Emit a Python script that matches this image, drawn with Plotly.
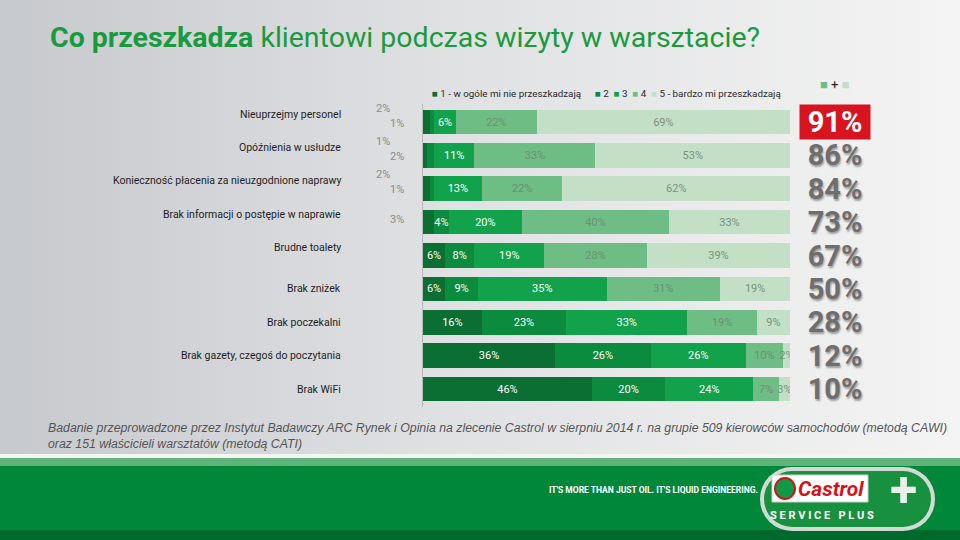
import plotly.graph_objects as go

# survey answers, percent of respondents per rating (1..5)
categories = ["Nieuprzejmy personel", "Opóźnienia w usłudze",
              "Konieczność płacenia za nieuzgodnione naprawy",
              "Brak informacji o postępie w naprawie", "Brudne toalety",
              "Brak zniżek", "Brak poczekalni",
              "Brak gazety, czegoś do poczytania", "Brak WiFi"]
r1 = [2, 1, 2, 3, 6, 6, 16, 36, 46]
r2 = [1, 2, 1, 4, 8, 9, 23, 26, 20]
r3 = [6, 11, 13, 20, 19, 35, 33, 26, 24]
r4 = [22, 33, 22, 40, 28, 31, 19, 10, 7]
r5 = [69, 53, 62, 33, 39, 19, 9, 2, 3]
series_names = ["1 - w ogóle mi nie przeszkadzają", "2", "3", "4",
                "5 - bardzo mi przeszkadzają"]
colors = ["#0b6e33", "#0a8b3d", "#12a24b", "#6dbd84", "#c3e0c6"]
text_colors = ["white", "white", "white", "#6f8f76", "#7a907e"]

FONT = "Roboto, sans-serif"

fig = go.Figure()

# background gradient on a full-size hidden subplot
fig.add_trace(go.Scatter(
    x=[0, 1, 1, 0, 0], y=[0, 0, 1, 1, 0], mode="none", fill="toself",
    fillgradient=dict(type="horizontal",
                      colorscale=[[0, "#c6c9cd"], [0.45, "#dfe0e2"], [1, "#f4f4f4"]]),
    hoverinfo="skip", showlegend=False, xaxis="x", yaxis="y"))

outside = []
for i, vals in enumerate([r1, r2, r3, r4, r5]):
    texts = []
    for j, v in enumerate(vals):
        if i < 2 and v < 4:
            texts.append("")
            outside.append((i, j, v))
        else:
            texts.append(f"{v}%")
    fig.add_trace(go.Bar(
        y=categories, x=vals, orientation="h", name=series_names[i],
        marker=dict(color=colors[i], line=dict(width=0)),
        text=texts, textposition="inside", insidetextanchor="middle",
        textangle=0, constraintext="none",
        textfont=dict(family=FONT, size=11, color=text_colors[i]),
        width=0.74, xaxis="x2", yaxis="y2", showlegend=False))


def note(x, y, text, size, color="#222", family=FONT, xanchor="center",
         shadow="none", **kw):
    fig.add_annotation(x=x, y=y, xref=kw.pop("xref", "paper"),
                       yref=kw.pop("yref", "paper"), text=text, showarrow=False,
                       xanchor=xanchor, yanchor="middle",
                       font=dict(family=family, size=size, color=color,
                                 shadow=shadow), **kw)


# small values shown to the left of the bars
for i, j, v in outside:
    upper = i == 0 and j < 3
    note(-0.11 if upper else -0.07, categories[j], f"{v}%", 11, "#8a8a8a",
         xref="x2 domain", yref="y2",
         yshift=14 if upper else (-1 if j < 3 else 3))

# category labels
for k, c in enumerate(categories):
    note(343 / 960, c, c, 10.5, "#1e1e1e", xanchor="right", yref="y2",
         yshift=8 if k < 5 else 0)

# share of 4 + 5 on the right
top2 = [a + b for a, b in zip(r4, r5)]
for k, (c, t) in enumerate(zip(categories, top2)):
    note(835 / 960, c, f"<b>{t}%</b>", 29, "white" if k == 0 else "#6e6e6e",
         yref="y2", width=70, height=34, borderpad=0,
         shadow="none" if k == 0 else "1px 2px 2px rgba(0,0,0,0.35)",
         bgcolor="#d7141f" if k == 0 else "rgba(0,0,0,0)")
note(835 / 960, 1 - 84 / 540,
     f"<span style='color:{colors[3]}'>■</span> + "
     f"<span style='color:{colors[4]}'>■</span>", 13)

# legend as text, two groups
note(430 / 960, 1 - 93 / 540,
     f"<span style='color:{colors[0]}'>■</span> {series_names[0]}",
     9.8, "#2a2a2a", xanchor="left")
note(593 / 960, 1 - 93 / 540,
     "  ".join(f"<span style='color:{colors[i]}'>■</span> {series_names[i]}"
               for i in range(1, 5)),
     9.8, "#2a2a2a", xanchor="left")

# title
note(48 / 960, 1 - 37 / 540,
     "<b>Co przeszkadza</b> klientowi podczas wizyty w warsztacie?", 28.5,
     "#1a9a3e", xanchor="left")

# footnote
note(46 / 960, 1 - 436 / 540,
     "<i>Badanie przeprowadzone przez Instytut Badawczy ARC Rynek i Opinia "
     "na zlecenie Castrol w sierpniu 2014 r. na grupie 509 kierowców "
     "samochodów (metodą CAWI)<br>oraz 151 właścicieli warsztatów "
     "(metodą CATI)</i>", 12.3, "#555555",
     family="Liberation Sans, Arial, sans-serif", xanchor="left", align="left")

# footer band and logo
px_x = lambda v: v / 960
px_y = lambda v: 1 - v / 540
shapes = [
    dict(type="rect", xref="paper", yref="paper", x0=0, x1=1, y0=0, y1=px_y(455),
         fillcolor="#00873a", line=dict(width=0), layer="above"),
    dict(type="rect", xref="paper", yref="paper", x0=0, x1=1, y0=px_y(458),
         y1=px_y(454), fillcolor="#f2f6f2", line=dict(width=0), layer="above"),
    dict(type="rect", xref="paper", yref="paper", x0=0, x1=1, y0=px_y(466),
         y1=px_y(458), fillcolor="#5fb27a", line=dict(width=0), layer="above"),
    dict(type="rect", xref="paper", yref="paper", x0=0, x1=1, y0=0,
         y1=px_y(530), fillcolor="#006a2c", line=dict(width=0), layer="above"),
]
for fill, inset in [("#d3d9d3", 0), ("#17903f", 4)]:
    shapes += [
        dict(type="circle", xref="paper", yref="paper",
             x0=px_x(760 + inset), x1=px_x(824 - inset),
             y0=px_y(531 - inset), y1=px_y(467 + inset),
             fillcolor=fill, line=dict(width=0), layer="above"),
        dict(type="circle", xref="paper", yref="paper",
             x0=px_x(871 + inset), x1=px_x(935 - inset),
             y0=px_y(531 - inset), y1=px_y(467 + inset),
             fillcolor=fill, line=dict(width=0), layer="above"),
        dict(type="rect", xref="paper", yref="paper",
             x0=px_x(792), x1=px_x(903), y0=px_y(531 - inset), y1=px_y(467 + inset),
             fillcolor=fill, line=dict(width=0), layer="above"),
    ]
shapes.append(dict(type="rect", xref="paper", yref="paper", x0=px_x(772), x1=px_x(868),
                   y0=px_y(502), y1=px_y(475), fillcolor="#ffffff",
                   line=dict(color="#c8d0c8", width=1), layer="above"))
shapes.append(dict(type="circle", xref="paper", yref="paper", x0=px_x(775), x1=px_x(795),
                   y0=px_y(499), y1=px_y(478), fillcolor="#0f9a45",
                   line=dict(color="#d2131b", width=2), layer="above"))
fig.update_layout(shapes=shapes)

note(px_x(831), px_y(489), "<b><i>Castrol</i></b>", 21, "#d2131b")
note(px_x(903), px_y(490), "<b>+</b>", 50, "#e9efe9")
note(px_x(822), px_y(515), "<b>S E R V I C E   P L U S</b>", 11, "white")
note(px_x(653), px_y(490), "<b>IT'S MORE THAN JUST OIL. IT'S LIQUID ENGINEERING.</b>",
     8.5, "white")

fig.update_layout(
    width=960, height=540, margin=dict(l=0, r=0, t=0, b=0),
    barmode="stack", showlegend=False,
    paper_bgcolor="#e2e3e5", plot_bgcolor="rgba(0,0,0,0)",
    xaxis=dict(domain=[0, 1], range=[0, 1], visible=False, fixedrange=True),
    yaxis=dict(domain=[0, 1], range=[0, 1], visible=False, fixedrange=True),
    xaxis2=dict(domain=[423 / 960, 790 / 960], range=[0, 100], visible=False,
                anchor="y2"),
    yaxis2=dict(domain=[1 - 407 / 540, 1 - 104 / 540], anchor="x2",
                categoryorder="array", categoryarray=categories,
                autorange="reversed", showticklabels=False, showgrid=False,
                zeroline=False, showline=True, linecolor="#b8b8b8", linewidth=1),
)

fig.write_html("out.html", config={"displayModeBar": False},
               post_script="document.body.style.margin='0px';")
